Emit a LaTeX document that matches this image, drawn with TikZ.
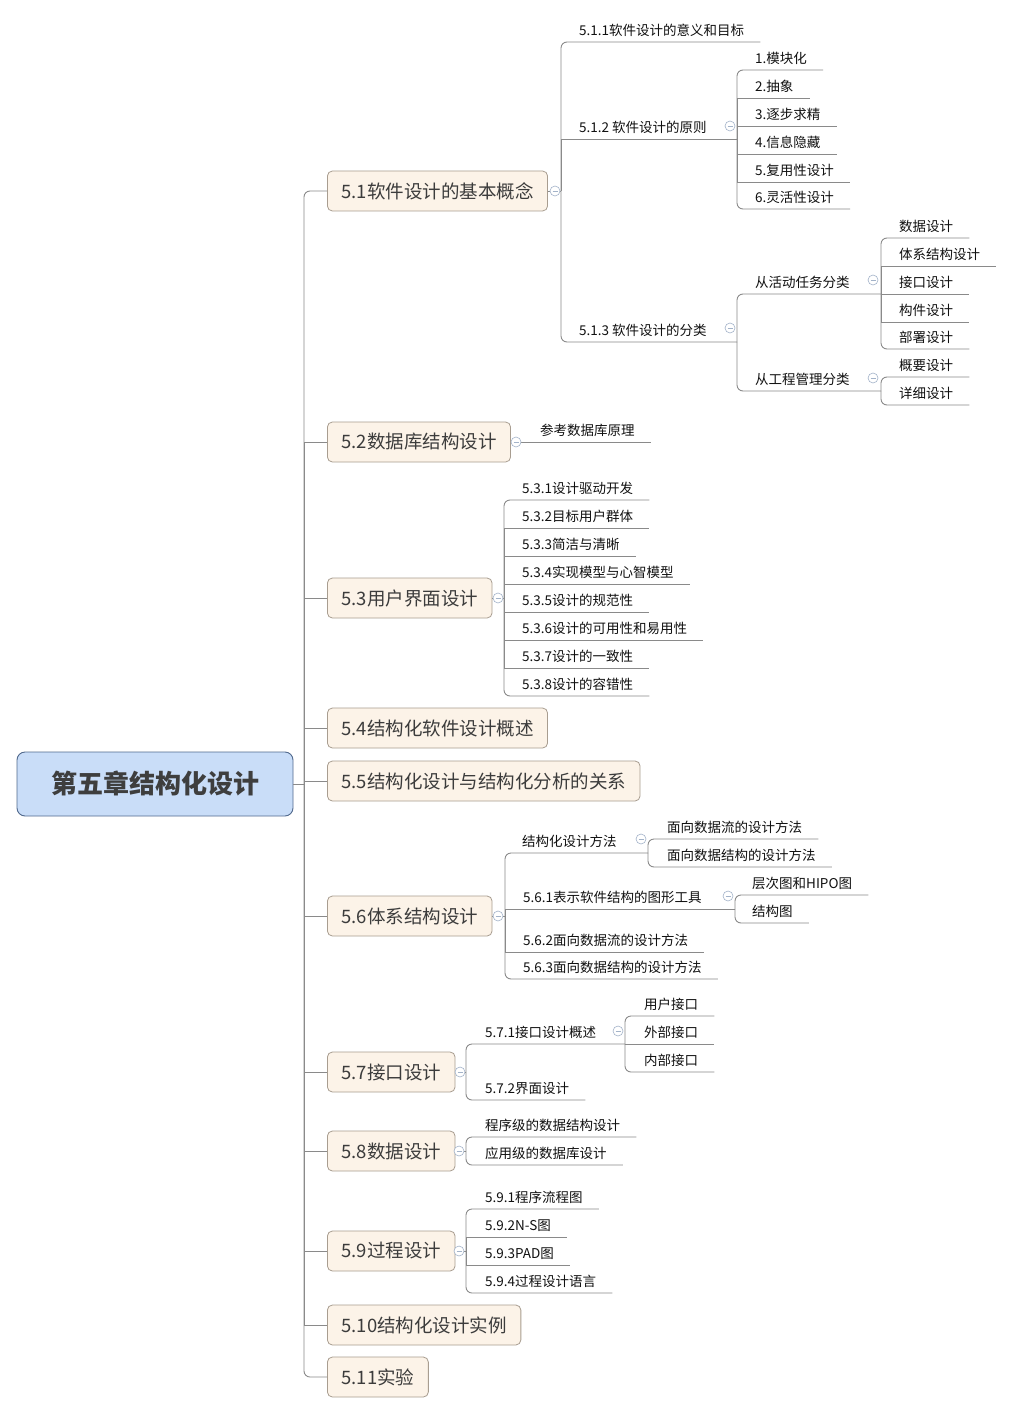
\documentclass[tikz,border=0pt]{standalone}
\usepackage{fontspec}
\setmainfont{Noto Sans CJK SC}
\definecolor{linegray}{HTML}{8A8A8A}
\definecolor{rootfill}{HTML}{C9DDF8}
\definecolor{rootborder}{HTML}{51698D}
\definecolor{roottext}{HTML}{3E3E3E}
\definecolor{topicfill}{HTML}{FCF3E8}
\definecolor{topicborder}{HTML}{A89D90}
\definecolor{topictext}{HTML}{3C3C3C}
\definecolor{leaftext}{HTML}{111111}
\definecolor{foldblue}{HTML}{A3B3C9}
\begin{document}
\begin{tikzpicture}[x=1pt,y=-1pt,
  conn/.style={draw=linegray, line width=0.9pt},
  endconn/.style={conn, rounded corners=6pt},
  rootbox/.style={rectangle, rounded corners=8pt, draw=rootborder, fill=rootfill,
    line width=0.9pt, minimum width=276pt, minimum height=64pt,
    font=\fontsize{26}{30}\selectfont\bfseries, text=roottext},
  topicbox/.style={rectangle, rounded corners=5pt, draw=topicborder, fill=topicfill,
    line width=0.8pt, font=\fontsize{18.5}{22}\selectfont, text=topictext,
    inner xsep=14pt, minimum height=40pt, anchor=west},
  leaf/.style={anchor=south west, inner xsep=16pt, inner ysep=4pt, text height=11pt,
    text depth=2pt, font=\fontsize{13.5}{16}\selectfont, text=leaftext},
  fold/.style={circle, draw=foldblue, fill=white, line width=0.6pt, minimum size=10pt,
    inner sep=0pt, path picture={\draw[foldblue, line width=0.6pt]
      ([xshift=-2.5pt]path picture bounding box.center) --
      ([xshift=2.5pt]path picture bounding box.center);}}
]
\fill[white] (0,0) rectangle (1013,1415);
\useasboundingbox (0,0) rectangle (1013,1415);

% ---------- root and main topics ----------
\node[rootbox] (root) at (155,784) {第五章结构化设计};
\coordinate (j0) at (304,784);

\node[topicbox] (b1)  at (327,191)  {5.1软件设计的基本概念};
\node[topicbox] (b2)  at (327,442)  {5.2数据库结构设计};
\node[topicbox] (b3)  at (327,598)  {5.3用户界面设计};
\node[topicbox] (b4)  at (327,728)  {5.4结构化软件设计概述};
\node[topicbox] (b5)  at (327,781)  {5.5结构化设计与结构化分析的关系};
\node[topicbox] (b6)  at (327,916)  {5.6体系结构设计};
\node[topicbox] (b7)  at (327,1072) {5.7接口设计};
\node[topicbox] (b8)  at (327,1151) {5.8数据设计};
\node[topicbox] (b9)  at (327,1251) {5.9过程设计};
\node[topicbox] (b10) at (327,1325) {5.10结构化设计实例};
\node[topicbox] (b11) at (327,1377) {5.11实验};

\draw[conn] (root.east) -- (j0);
\draw[endconn] (j0) |- (b1.west);
\foreach \b in {b2,b3,b4,b5,b6,b7,b8,b9,b10}{\draw[conn] (j0) |- (\b.west);}
\draw[endconn] (j0) |- (b11.west);

% ---------- 5.1 ----------
\coordinate (j1) at (561,191);
\draw[conn] (b1.east) -- (j1);
\node[leaf] (n111) at (563,42)  {5.1.1软件设计的意义和目标};
\node[leaf] (n112) at (563,139) {5.1.2 软件设计的原则};
\node[leaf] (n113) at (563,342) {5.1.3 软件设计的分类};
\coordinate (j112) at (737,139);
\coordinate (j113) at (737,342);
\draw[endconn] (j1) |- (n111.south east);
\draw[conn] (j1) |- (j112);
\draw[endconn] (j1) |- (j113);

\node[leaf] (p1) at (739,70)  {1.模块化};
\node[leaf] (p2) at (739,98)  {2.抽象};
\node[leaf] (p3) at (739,126) {3.逐步求精};
\node[leaf] (p4) at (739,154) {4.信息隐藏};
\node[leaf] (p5) at (739,182) {5.复用性设计};
\node[leaf] (p6) at (739,209) {6.灵活性设计};
\draw[endconn] (j112) |- (p1.south east);
\foreach \p in {p2,p3,p4,p5}{\draw[conn] (j112) |- (\p.south east);}
\draw[endconn] (j112) |- (p6.south east);

\node[leaf] (c1) at (739,294) {从活动任务分类};
\node[leaf] (c2) at (739,391) {从工程管理分类};
\coordinate (jc1) at (881,294);
\coordinate (jc2) at (881,391);
\draw[endconn] (j113) |- (jc1);
\draw[endconn] (j113) |- (jc2);

\node[leaf] (a1) at (883,238) {数据设计};
\node[leaf] (a2) at (883,266) {体系结构设计};
\node[leaf] (a3) at (883,294) {接口设计};
\node[leaf] (a4) at (883,322) {构件设计};
\node[leaf] (a5) at (883,349) {部署设计};
\draw[endconn] (jc1) |- (a1.south east);
\foreach \a in {a2,a3,a4}{\draw[conn] (jc1) |- (\a.south east);}
\draw[endconn] (jc1) |- (a5.south east);

\node[leaf] (g1) at (883,377) {概要设计};
\node[leaf] (g2) at (883,405) {详细设计};
\draw[endconn] (jc2) |- (g1.south east);
\draw[endconn] (jc2) |- (g2.south east);

% ---------- 5.2 ----------
\node[leaf] (n21) at (524,442) {参考数据库原理};
\draw[conn] (b2.east) -- (n21.south east);

% ---------- 5.3 ----------
\coordinate (j3) at (504,598);
\draw[conn] (b3.east) -- (j3);
\node[leaf] (u1) at (506,500) {5.3.1设计驱动开发};
\node[leaf] (u2) at (506,528) {5.3.2目标用户群体};
\node[leaf] (u3) at (506,556) {5.3.3简洁与清晰};
\node[leaf] (u4) at (506,584) {5.3.4实现模型与心智模型};
\node[leaf] (u5) at (506,612) {5.3.5设计的规范性};
\node[leaf] (u6) at (506,640) {5.3.6设计的可用性和易用性};
\node[leaf] (u7) at (506,668) {5.3.7设计的一致性};
\node[leaf] (u8) at (506,696) {5.3.8设计的容错性};
\draw[endconn] (j3) |- (u1.south east);
\foreach \u in {u2,u3,u4,u5,u6,u7}{\draw[conn] (j3) |- (\u.south east);}
\draw[endconn] (j3) |- (u8.south east);

% ---------- 5.6 ----------
\coordinate (j6) at (505,916);
\draw[conn] (b6.east) -- (j6);
\node[leaf] (s1) at (506,853) {结构化设计方法};
\node[leaf] (s2) at (507,909) {5.6.1表示软件结构的图形工具};
\node[leaf] (s3) at (507,952) {5.6.2面向数据流的设计方法};
\node[leaf] (s4) at (507,979) {5.6.3面向数据结构的设计方法};
\coordinate (js1) at (648,853);
\coordinate (js2) at (735,909);
\draw[endconn] (j6) |- (js1);
\draw[conn] (j6) |- (js2);
\draw[conn] (j6) |- (s3.south east);
\draw[endconn] (j6) |- (s4.south east);

\node[leaf] (f1) at (651,839) {面向数据流的设计方法};
\node[leaf] (f2) at (651,867) {面向数据结构的设计方法};
\draw[endconn] (js1) |- (f1.south east);
\draw[endconn] (js1) |- (f2.south east);

\node[leaf] (t1) at (736,895) {层次图和HIPO图};
\node[leaf] (t2) at (736,923) {结构图};
\draw[endconn] (js2) |- (t1.south east);
\draw[endconn] (js2) |- (t2.south east);

% ---------- 5.7 ----------
\coordinate (j7) at (466,1072);
\draw[conn] (b7.east) -- (j7);
\node[leaf] (i1) at (469,1044) {5.7.1接口设计概述};
\node[leaf] (i2) at (469,1100) {5.7.2界面设计};
\coordinate (ji1) at (625,1044);
\draw[endconn] (j7) |- (ji1);
\draw[endconn] (j7) |- (i2.south east);

\node[leaf] (k1) at (628,1016) {用户接口};
\node[leaf] (k2) at (628,1044) {外部接口};
\node[leaf] (k3) at (628,1072) {内部接口};
\draw[endconn] (ji1) |- (k1.south east);
\draw[conn] (ji1) |- (k2.south east);
\draw[endconn] (ji1) |- (k3.south east);

% ---------- 5.8 ----------
\coordinate (j8) at (466,1151);
\draw[conn] (b8.east) -- (j8);
\node[leaf] (d1) at (469,1137) {程序级的数据结构设计};
\node[leaf] (d2) at (469,1165) {应用级的数据库设计};
\draw[endconn] (j8) |- (d1.south east);
\draw[endconn] (j8) |- (d2.south east);

% ---------- 5.9 ----------
\coordinate (j9) at (466,1251);
\draw[conn] (b9.east) -- (j9);
\node[leaf] (r1) at (469,1209) {5.9.1程序流程图};
\node[leaf] (r2) at (469,1237) {5.9.2N-S图};
\node[leaf] (r3) at (469,1265) {5.9.3PAD图};
\node[leaf] (r4) at (469,1293) {5.9.4过程设计语言};
\draw[endconn] (j9) |- (r1.south east);
\draw[conn] (j9) |- (r2.south east);
\draw[conn] (j9) |- (r3.south east);
\draw[endconn] (j9) |- (r4.south east);

% ---------- collapse markers ----------
\node[fold] (m1)   at (555,191)  {};
\node[fold] (m112) at (730,126)  {};
\node[fold] (m113) at (730,328)  {};
\node[fold] (mc1)  at (873,280)  {};
\node[fold] (mc2)  at (873,378)  {};
\node[fold] (m2)   at (516,442)  {};
\node[fold] (m3)   at (498,598)  {};
\node[fold] (m6)   at (498,916)  {};
\node[fold] (ms1)  at (641,839)  {};
\node[fold] (ms2)  at (728,896)  {};
\node[fold] (m7)   at (460,1072) {};
\node[fold] (mi1)  at (618,1031) {};
\node[fold] (m8)   at (459,1151) {};
\node[fold] (m9)   at (459,1251) {};
\end{tikzpicture}
\end{document}
